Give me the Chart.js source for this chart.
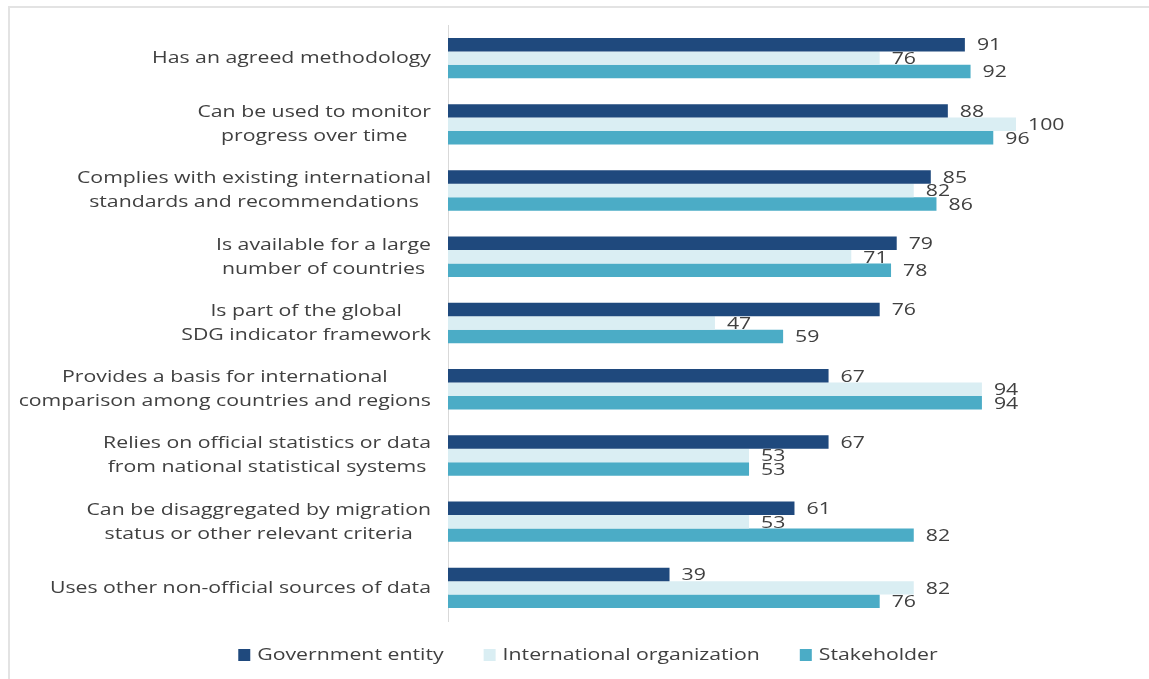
<!DOCTYPE html>
<html>
<head>
<meta charset="utf-8">
<script src="https://cdn.jsdelivr.net/npm/chart.js@4.4.1/dist/chart.umd.min.js"></script>
<style>
  html, body { margin: 0; padding: 0; background: #fff; }
  #wrap { position: relative; width: 1149px; height: 679px; overflow: hidden; }
  #frame { position: absolute; left: 8px; top: 6px; right: -4px; bottom: -4px;
           border-top: 2px solid #e3e3e3; border-left: 2px solid #e3e3e3; }
  canvas { position: absolute; left: 0; top: 0; }
</style>
</head>
<body>
<div id="wrap">
  <div id="frame"></div>
  <canvas id="criteria__chart" width="1149" height="679"></canvas>
</div>
<script>
var categories = [
    ['Has an agreed methodology'],
    ['Can be used to monitor', 'progress over time'],
    ['Complies with existing international', 'standards and recommendations'],
    ['Is available for a large', 'number of countries'],
    ['Is part of the global', 'SDG indicator framework'],
    ['Provides a basis for international', 'comparison among countries and regions'],
    ['Relies on official statistics or data', 'from national statistical systems'],
    ['Can be disaggregated by migration', 'status or other relevant criteria'],
    ['Uses other non-official sources of data']
];
var government = [91, 88, 85, 79, 76, 67, 67, 61, 39];
var international = [76, 100, 82, 71, 47, 94, 53, 53, 82];
var stakeholder = [92, 96, 86, 78, 59, 94, 53, 82, 76];

var FONT = '17px "Open Sans", sans-serif';
var TEXT = '#404040';
var STRETCH = 1.25; // the text in this chart is set wide

// draw text stretched horizontally, anchored at its left edge
function wideText(ctx, text, x, y) {
    ctx.save();
    ctx.translate(x, y);
    ctx.scale(STRETCH, 1);
    ctx.fillText(text, 0, 0);
    ctx.restore();
}
function wideWidth(ctx, text) {
    return ctx.measureText(text).width * STRETCH;
}

// category names, each block right-aligned against the axis with its lines centred
var categoryLabels = {
    id: 'categoryLabels',
    afterDraw: function (chart) {
        var ctx = chart.ctx;
        var yScale = chart.scales.y;
        var right = yScale.right - 17;
        var lh = 24;
        ctx.save();
        ctx.font = FONT;
        ctx.fillStyle = TEXT;
        ctx.textAlign = 'left';
        ctx.textBaseline = 'middle';
        categories.forEach(function (lines, i) {
            var y = yScale.getPixelForTick(i);
            var w = Math.max.apply(null, lines.map(function (l) { return wideWidth(ctx, l); }));
            var cx = right - w / 2;
            var y0 = y - (lines.length - 1) * lh / 2;
            lines.forEach(function (l, j) {
                wideText(ctx, l, cx - wideWidth(ctx, l) / 2, y0 + j * lh);
            });
        });
        ctx.restore();
    }
};

// value at the end of each bar
var valueLabels = {
    id: 'valueLabels',
    afterDatasetsDraw: function (chart) {
        var ctx = chart.ctx;
        ctx.save();
        ctx.font = FONT;
        ctx.fillStyle = TEXT;
        ctx.textAlign = 'left';
        ctx.textBaseline = 'middle';
        chart.data.datasets.forEach(function (ds, d) {
            chart.getDatasetMeta(d).data.forEach(function (bar, i) {
                wideText(ctx, String(ds.data[i]), bar.x + 12, bar.y + 1);
            });
        });
        ctx.restore();
    }
};

// legend row under the plot
var legendRow = {
    id: 'legendRow',
    afterDraw: function (chart) {
        var ctx = chart.ctx;
        var y = chart.chartArea.bottom + 34;
        var gap = 40, box = 12;
        ctx.save();
        ctx.font = FONT;
        ctx.textBaseline = 'middle';
        var items = chart.data.datasets.map(function (ds) {
            return { text: ds.label, color: ds.backgroundColor, w: box + 7 + wideWidth(ctx, ds.label) };
        });
        var total = items.reduce(function (s, it) { return s + it.w; }, 0) + gap * (items.length - 1);
        var x = 588 - total / 2;
        items.forEach(function (it) {
            ctx.fillStyle = it.color;
            ctx.fillRect(x, y - box / 2, box, box);
            ctx.fillStyle = TEXT;
            wideText(ctx, it.text, x + box + 7, y);
            x += it.w + gap;
        });
        ctx.restore();
    }
};

var ctx = document.getElementById('criteria__chart').getContext('2d');
var criteriaChart = new Chart(ctx, {
    type: 'bar',
    data: {
        labels: categories.map(function (c) { return c.join(' '); }),
        datasets: [
            { label: 'Government entity', data: government, backgroundColor: '#1F497D' },
            { label: 'International organization', data: international, backgroundColor: '#DAEEF3' },
            { label: 'Stakeholder', data: stakeholder, backgroundColor: '#4BACC6' }
        ]
    },
    options: {
        indexAxis: 'y',
        responsive: false,
        animation: false,
        categoryPercentage: 0.61,
        barPercentage: 1.0,
        layout: { padding: { top: 25, right: 133, bottom: 58, left: 0 } },
        scales: {
            x: {
                min: 0,
                max: 100,
                display: false
            },
            y: {
                grid: { display: false, drawTicks: false },
                border: { display: true, color: '#d9d9d9', width: 1 },
                ticks: { display: false },
                afterFit: function (scale) { scale.width = 448; }
            }
        },
        plugins: {
            tooltip: { enabled: false },
            legend: { display: false }
        }
    },
    plugins: [categoryLabels, valueLabels, legendRow]
});
</script>
</body>
</html>
